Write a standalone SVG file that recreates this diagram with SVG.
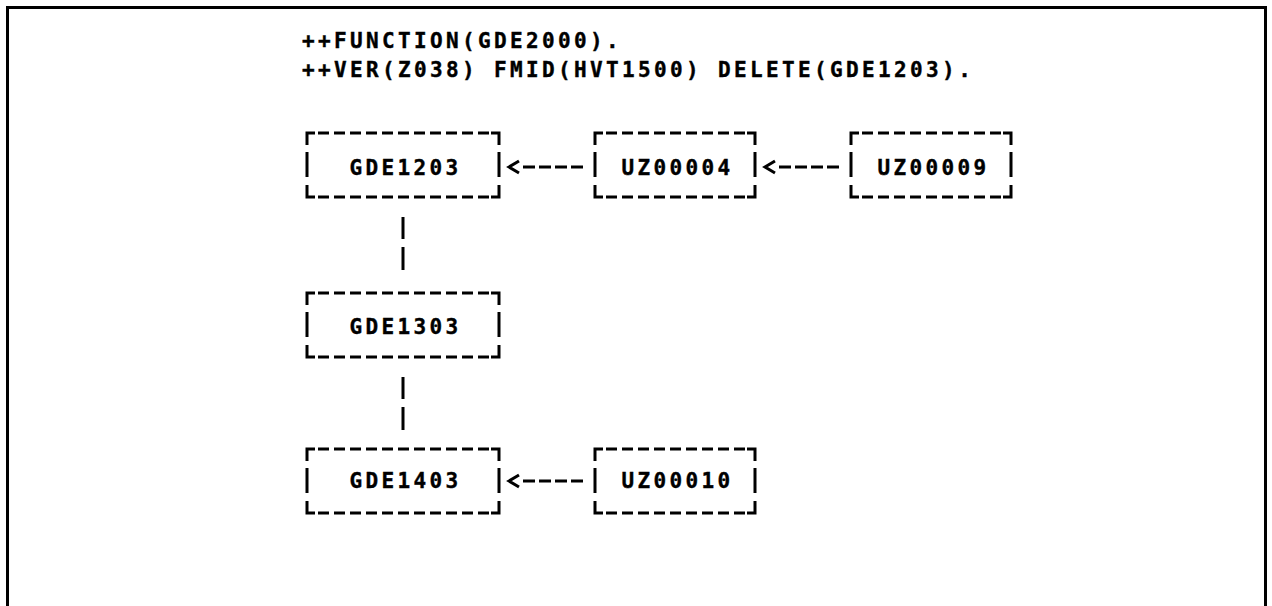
<svg xmlns="http://www.w3.org/2000/svg" width="1272" height="606" viewBox="0 0 1272 606">
  <style>
    .t { font-family: "DejaVu Sans Mono", "Liberation Mono", monospace; font-weight: bold; font-size: 21px; letter-spacing: 3.36px; fill: #000; stroke: #000; stroke-width: 0.4; }
    .edge { fill: none; stroke: #000; stroke-width: 3; }
    .dash { fill: none; stroke: #000; stroke-width: 3; stroke-dasharray: 11 5; }
    .conn { fill: none; stroke: #000; stroke-width: 3; }
    .cdash { fill: none; stroke: #000; stroke-width: 3; stroke-dasharray: 12 4; }
  </style>
  <defs>
    <!-- printed box outline, 64 units tall, origin at top-left -->
    <g id="box192">
      <path class="edge" d="M0,12 V0 H8 M184,0 H192 V12 M0,52 V64 H8 M184,64 H192 V52 M0,19 V44 M192,19 V44"/>
      <path class="dash" d="M11,0 H182 M11,64 H182"/>
    </g>
    <g id="box160">
      <path class="edge" d="M0,12 V0 H8 M152,0 H160 V12 M0,52 V64 H8 M152,64 H160 V52 M0,19 V44 M160,19 V44"/>
      <path class="dash" d="M11,0 H150 M11,64 H150"/>
    </g>
    <!-- left-pointing dashed pointer: chevron plus four dashes -->
    <g id="ptr">
      <path class="conn" d="M12,-6 L2,0 L12,6"/>
      <path class="cdash" d="M16,0 H80"/>
    </g>
  </defs>

  <!-- frame, open at the bottom -->
  <path class="edge" d="M7.5,606 V7.5 H1265.5 V606" stroke-width="3.5"/>

  <g id="header">
    <text class="t" x="302" y="48">++FUNCTION(GDE2000).</text>
    <text class="t" x="302" y="77">++VER(Z038) FMID(HVT1500) DELETE(GDE1203).</text>
  </g>

  <g id="connectors">
    <use href="#ptr" x="507" y="167"/>
    <use href="#ptr" x="763" y="167"/>
    <use href="#ptr" x="507" y="481"/>
    <path class="conn" d="M403,217 V239 M403,247 V270 M403,377 V399 M403,407 V430"/>
  </g>

  <g id="GDE1203">
    <use href="#box192" x="307" y="133"/>
    <text class="t" x="349.5" y="175">GDE1203</text>
  </g>
  <g id="UZ00004">
    <use href="#box160" x="595" y="133"/>
    <text class="t" x="621.5" y="175">UZ00004</text>
  </g>
  <g id="UZ00009">
    <use href="#box160" x="851" y="133"/>
    <text class="t" x="877.5" y="175">UZ00009</text>
  </g>
  <g id="GDE1303">
    <use href="#box192" x="307" y="293"/>
    <text class="t" x="349.5" y="334">GDE1303</text>
  </g>
  <g id="GDE1403">
    <use href="#box192" x="307" y="449"/>
    <text class="t" x="349.5" y="488">GDE1403</text>
  </g>
  <g id="UZ00010">
    <use href="#box160" x="595" y="449"/>
    <text class="t" x="621.5" y="488">UZ00010</text>
  </g>
</svg>
